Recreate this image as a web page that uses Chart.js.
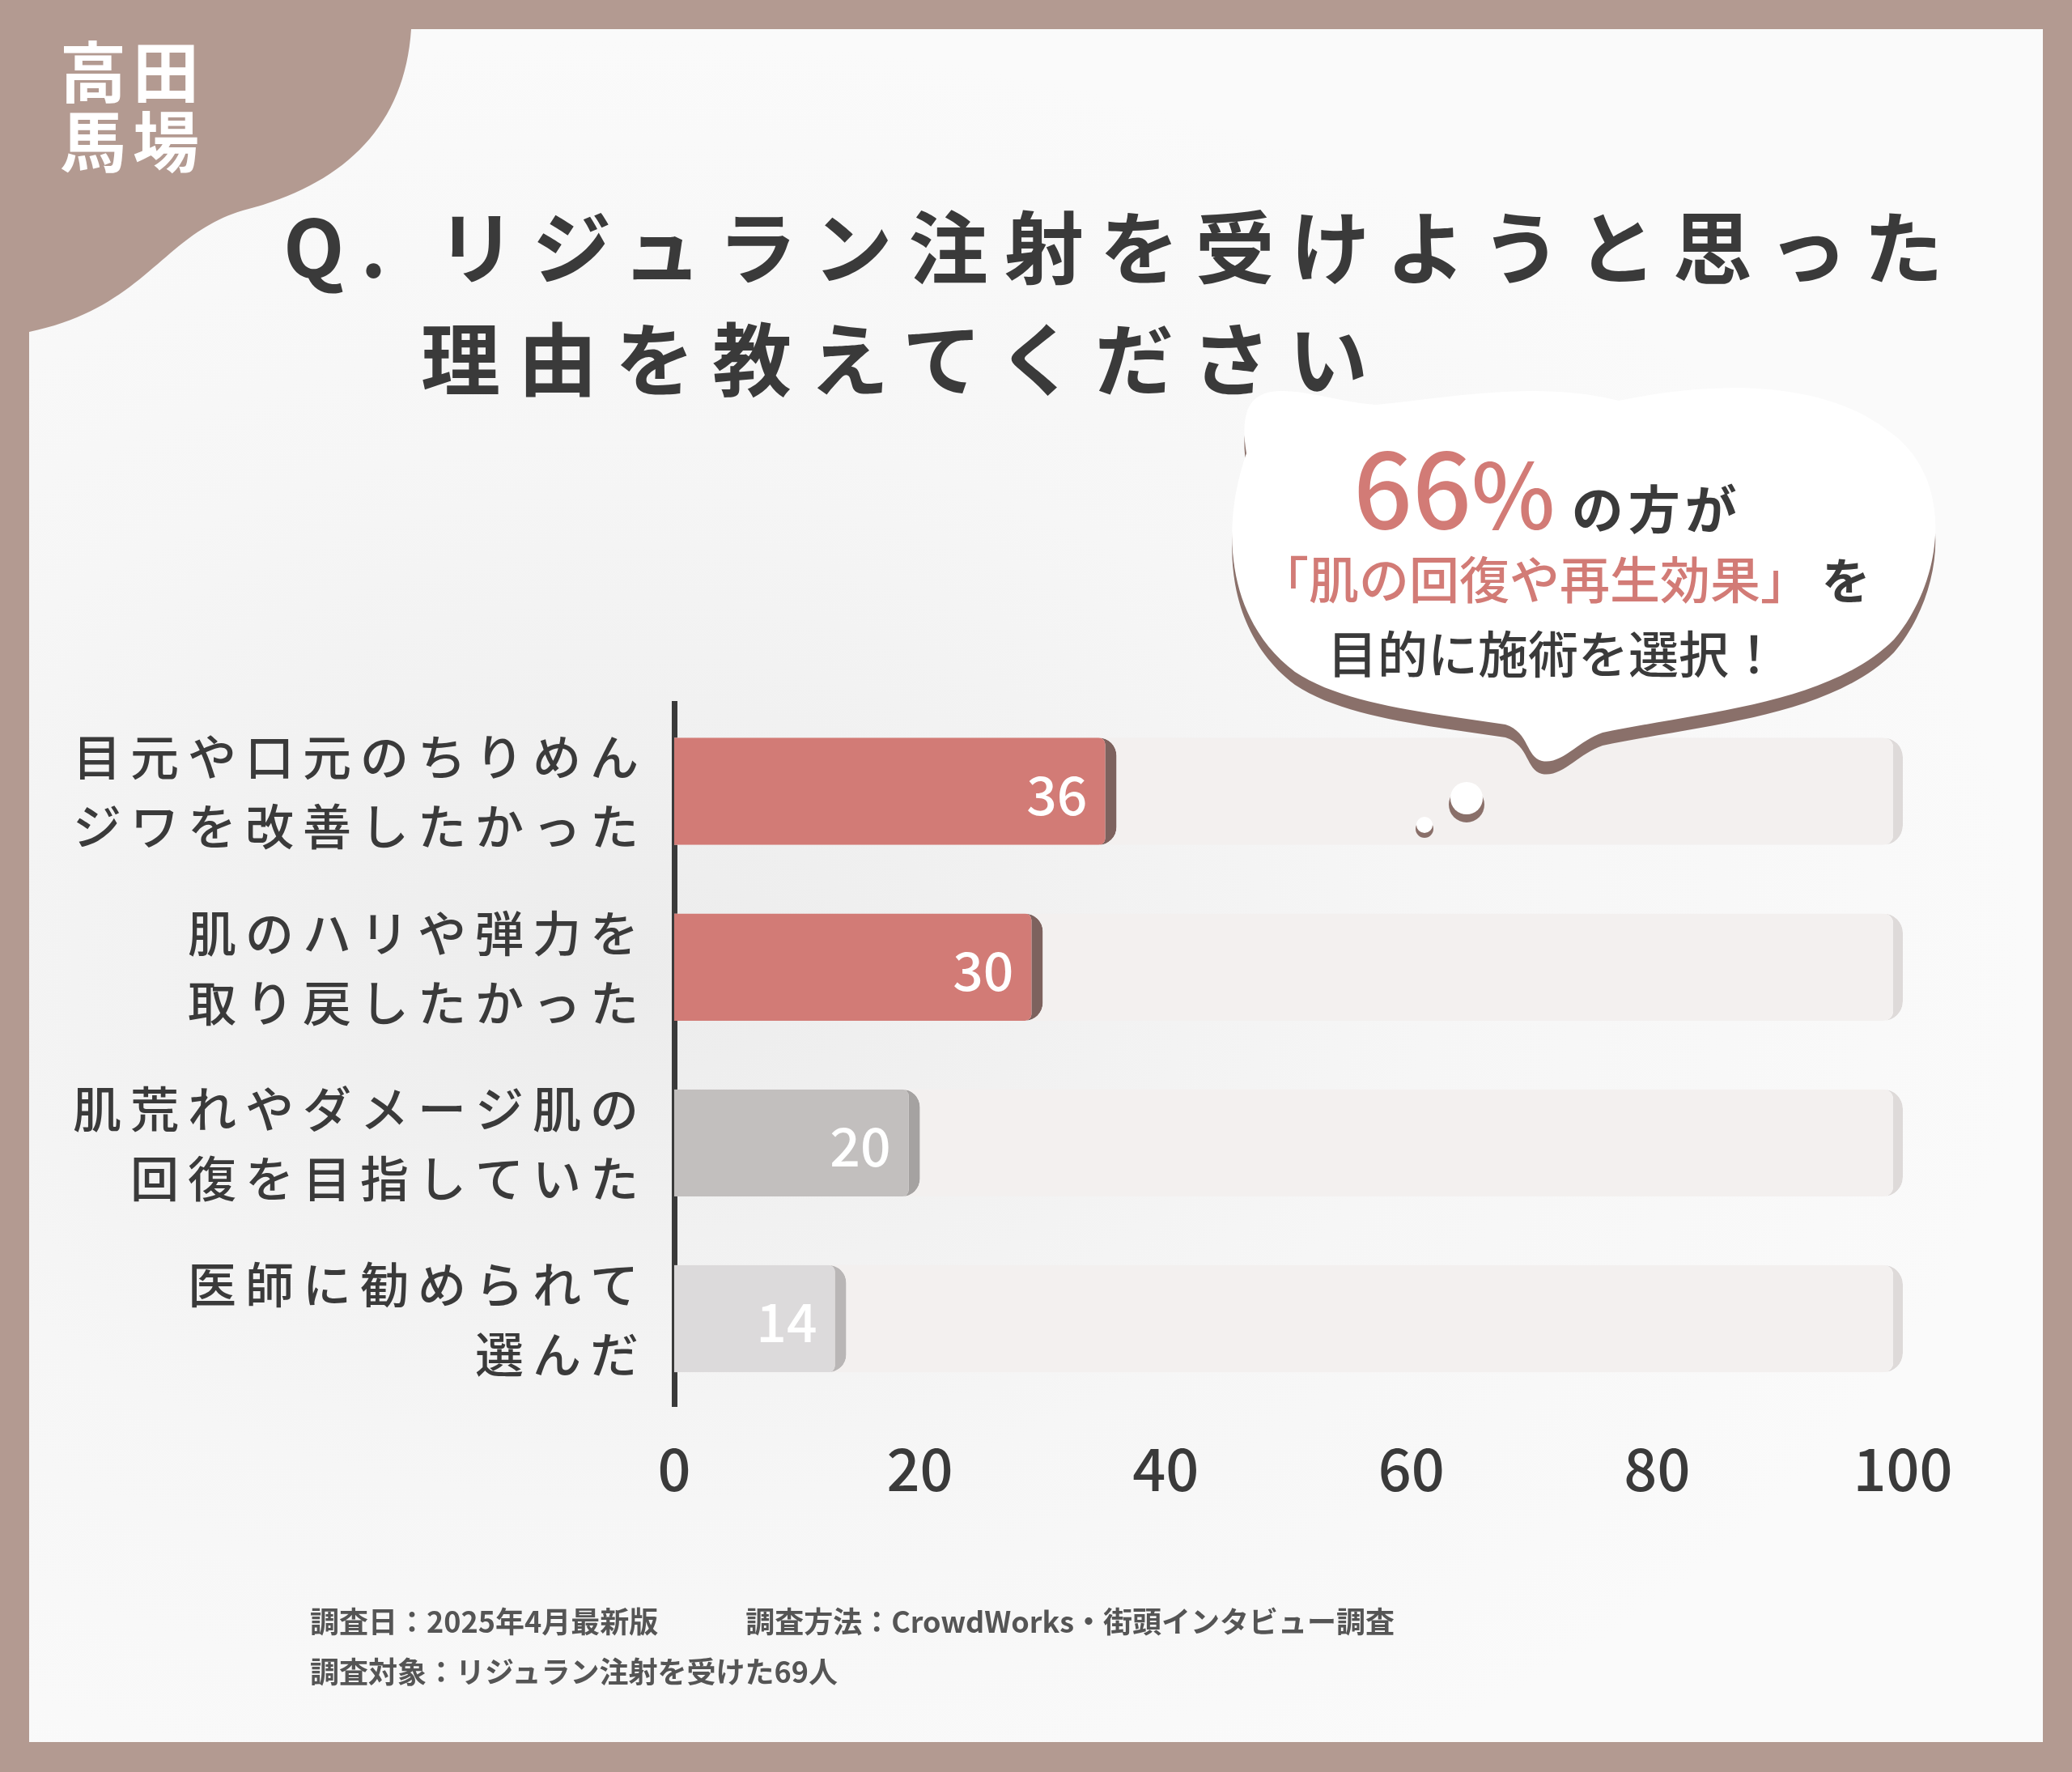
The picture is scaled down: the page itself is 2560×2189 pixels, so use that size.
<!DOCTYPE html>
<html><head><meta charset="utf-8">
<script src="https://cdn.jsdelivr.net/npm/chart.js@4"></script>
<style>
html,body{margin:0;padding:0;}
body{width:2560px;height:2189px;background:#b39a91;position:relative;overflow:hidden;font-family:"Noto Sans CJK JP",sans-serif;}
#panel{position:absolute;left:36px;top:36px;width:2488px;height:2116px;background:radial-gradient(ellipse at 30% 55%,#ececec 0%,#f6f6f6 40%,#fafafa 70%),#f8f8f8;}
#c{position:absolute;left:0;top:0;}
.t{position:absolute;white-space:nowrap;color:#3a3a3a;font-weight:700;z-index:3;}
svg{position:absolute;left:0;top:0;}
#bub{z-index:2;}
</style></head><body>
<div id="panel"></div>
<svg width="2560" height="2189">
<path d="M36 36 L508 36 C500 160 420 230 300 260 C200 290 180 380 36 410 Z" fill="#b39a91"/>
</svg>
<canvas id="c" width="2560" height="2189"></canvas>
<svg id="bub" width="2560" height="2189">
<g id="shape">
<path d="M1540 560 C1520 440 1620 495 1700 500 C1800 490 1900 470 2000 495 C2120 470 2250 470 2330 530 C2420 590 2400 720 2340 790 C2260 870 2100 880 1980 905 C1950 915 1930 945 1905 940 C1885 935 1890 905 1860 895 C1760 880 1660 870 1600 830 C1520 770 1505 660 1540 560 Z" fill="#8a706a" transform="translate(0,16)"/>
<path d="M1540 560 C1520 440 1620 495 1700 500 C1800 490 1900 470 2000 495 C2120 470 2250 470 2330 530 C2420 590 2400 720 2340 790 C2260 870 2100 880 1980 905 C1950 915 1930 945 1905 940 C1885 935 1890 905 1860 895 C1760 880 1660 870 1600 830 C1520 770 1505 660 1540 560 Z" fill="#ffffff"/>
</g>
<circle cx="1812" cy="994" r="22" fill="#8a706a"/><circle cx="1812" cy="986" r="20" fill="#fff"/>
<circle cx="1760" cy="1024" r="11" fill="#8a706a"/><circle cx="1760" cy="1019" r="10" fill="#fff"/>
</svg>
<div class="t" style="left:74px;top:42px;font-size:82px;line-height:86px;color:#fff;letter-spacing:8px;">高田<br>馬場</div>
<div class="t" style="left:350px;top:229px;font-size:98px;letter-spacing:20px;">Q. リジュラン注射を受けようと思った</div>
<div class="t" style="left:520px;top:367px;font-size:98px;letter-spacing:22px;">理由を教えてください</div>
<div class="t" style="left:1672px;top:505px;font-size:128px;color:#d27b76;font-weight:500;">66<span style="font-size:110px">%</span><span style="font-size:64px;color:#3a3a3a;letter-spacing:6px;font-weight:700;"> の方が</span></div>
<div class="t" style="left:1555px;top:668px;font-size:62px;color:#d27b76;font-weight:500;">「肌の回復や再生効果」<span style="color:#3a3a3a;font-size:60px;font-weight:700"> を</span></div>
<div class="t" style="left:1640px;top:760px;font-size:62px;font-weight:500;">目的に施術を選択！</div>
<div class="t" style="left:383px;top:1975px;font-size:36px;color:#555;">調査日：2025年4月最新版　　　調査方法：CrowdWorks・街頭インタビュー調査</div>
<div class="t" style="left:383px;top:2037px;font-size:36px;color:#555;">調査対象：リジュラン注射を受けた69人</div>
<script>
const categories=[["目元や口元のちりめん","ジワを改善したかった"],["肌のハリや弾力を","取り戻したかった"],["肌荒れやダメージ肌の","回復を目指していた"],["医師に勧められて","選んだ"]];
const values=[36,30,20,14];
const fullScale=[100,100,100,100];
const tickLabels=["0","20","40","60","80","100"];
const barColors=["#d27b76","#d27b76","#c2bfbe","#dcdadb"];
const edgeColors=["#7d625e","#7d625e","#a5a2a1","#b9b6b6"];
const labelPlugin={id:'lbl',afterDraw(ch){const ctx=ch.ctx,x=ch.scales.x,y=ch.scales.y;ctx.save();
ctx.font='500 66px "Noto Sans CJK JP"';ctx.fillStyle='#fff';ctx.textAlign='right';ctx.textBaseline='middle';
values.forEach((v,i)=>{ctx.fillText(String(v),x.getPixelForValue(v)-36,y.getPixelForValue(i)+4);});
ctx.font='500 60px "Noto Sans CJK JP"';ctx.fillStyle='#3a3a3a';ctx.letterSpacing='11px';
categories.forEach((c,i)=>{const yc=y.getPixelForValue(i);ctx.fillText(c[0],800,yc-42);ctx.fillText(c[1],800,yc+44);});
ctx.restore();}};
new Chart(document.getElementById('c'),{type:'bar',
data:{labels:categories,datasets:[
{data:values,backgroundColor:barColors,borderColor:edgeColors,borderWidth:{right:14,top:0,bottom:0,left:0},borderSkipped:'start',borderRadius:{topRight:22,bottomRight:22},barPercentage:0.61,categoryPercentage:1,clip:false},
{data:fullScale,backgroundColor:'#f3f0ef',borderColor:'#dedad9',borderWidth:{right:12,top:0,bottom:0,left:0},borderSkipped:'start',borderRadius:{topRight:24,bottomRight:24},barPercentage:0.61,categoryPercentage:1,clip:false}]},
options:{indexAxis:'y',responsive:false,animation:false,devicePixelRatio:1,
layout:{padding:{left:825,right:209,top:869,bottom:305}},
plugins:{legend:{display:false},tooltip:{enabled:false}},
scales:{x:{min:0,max:100,grid:{display:false},border:{display:false},
ticks:{stepSize:20,padding:26,color:'#3a3a3a',font:{size:72,family:'"Noto Sans CJK JP"',weight:'500'},callback:(v,i)=>tickLabels[i]}},
y:{stacked:true,grid:{display:false},border:{display:true,color:'#3a3a3a',width:7},ticks:{display:false}}}},
plugins:[labelPlugin]});
</script>
</body></html>
